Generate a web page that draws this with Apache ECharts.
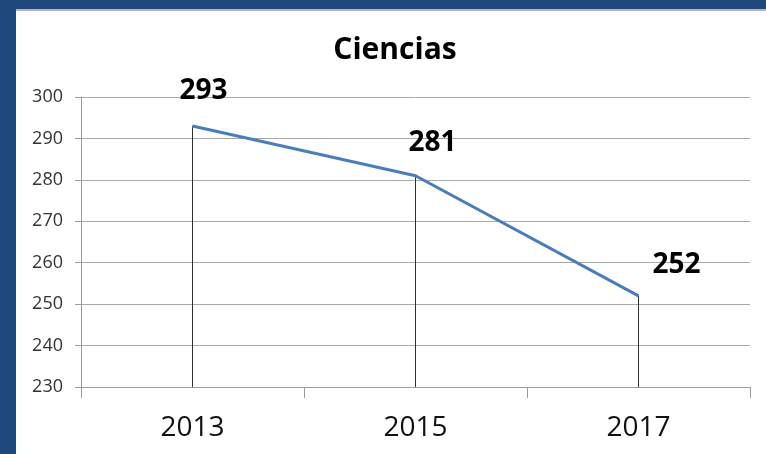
<!DOCTYPE html>
<html>
<head>
    <meta charset="utf-8">
    <title>Ciencias</title>
    <script type="text/javascript" src="https://cdn.jsdelivr.net/npm/echarts@6/dist/echarts.min.js"></script>
    <style>
        body {
            margin: 0px;
            padding: 0px;
            width: 766px;
            height: 454px;
            background: #1f497d;
            overflow: hidden;
        }

        #chart {
            position: absolute;
            left: 16px;
            top: 9px;
            width: 750px;
            height: 445px;
            background: #ffffff;
            border-top: 2px solid #b8b8b8;
            box-sizing: border-box;
        }
    </style>
</head>
<body>
<div id="chart"></div>
<script type="text/javascript">
    var years = ['2013', '2015', '2017'];
    var scores = [293, 281, 252];
    var yTicks = [230, 240, 250, 260, 270, 280, 290, 300];

    // desplazamiento de cada etiqueta (como en el original de Excel)
    var labelShift = [[11, -12], [17, -10], [38, -8]];

    var chart = echarts.init(document.getElementById('chart'));

    var lineData = [];
    for (var i = 0; i < scores.length; i++) {
        lineData.push({
            value: scores[i],
            label: {offset: labelShift[i]}
        });
    }

    var option = {
        animation: false,
        title: {
            text: 'Ciencias',
            left: 374,
            top: 19,
            textAlign: 'center',
            textStyle: {
                fontFamily: 'Open Sans',
                fontSize: 30,
                fontWeight: 'bold',
                color: '#000'
            }
        },
        grid: {
            left: 65,
            right: 16,
            top: 86,
            bottom: 67
        },
        xAxis: {
            type: 'category',
            data: years,
            boundaryGap: true,
            axisLine: {lineStyle: {color: '#9a9a9a', width: 1}},
            axisTick: {show: true, length: 11, lineStyle: {color: '#9a9a9a'}},
            axisLabel: {
                margin: 27,
                fontFamily: 'Open Sans',
                fontSize: 28,
                color: '#111'
            }
        },
        yAxis: {
            type: 'value',
            min: yTicks[0],
            max: yTicks[yTicks.length - 1],
            interval: 10,
            axisLine: {show: true, lineStyle: {color: '#9a9a9a', width: 1}},
            axisTick: {show: true, length: 6, lineStyle: {color: '#9a9a9a'}},
            splitLine: {lineStyle: {color: '#a8a8a8', width: 1}},
            axisLabel: {
                margin: 18,
                fontFamily: 'Open Sans',
                fontSize: 18,
                color: '#333'
            }
        },
        series: [
            {
                // lineas de caida hasta el eje
                type: 'bar',
                data: scores,
                barWidth: 1,
                itemStyle: {color: '#303030'},
                silent: true
            },
            {
                type: 'line',
                data: lineData,
                symbol: 'circle',
                symbolSize: 1,
                itemStyle: {color: '#4a7ebb'},
                lineStyle: {color: '#4a7ebb', width: 3},
                label: {
                    show: true,
                    position: 'top',
                    distance: 8,
                    fontFamily: 'Open Sans',
                    fontSize: 28,
                    fontWeight: 'bold',
                    color: '#000'
                },
                z: 3
            }
        ]
    };
    chart.setOption(option);
</script>
</body>
</html>
